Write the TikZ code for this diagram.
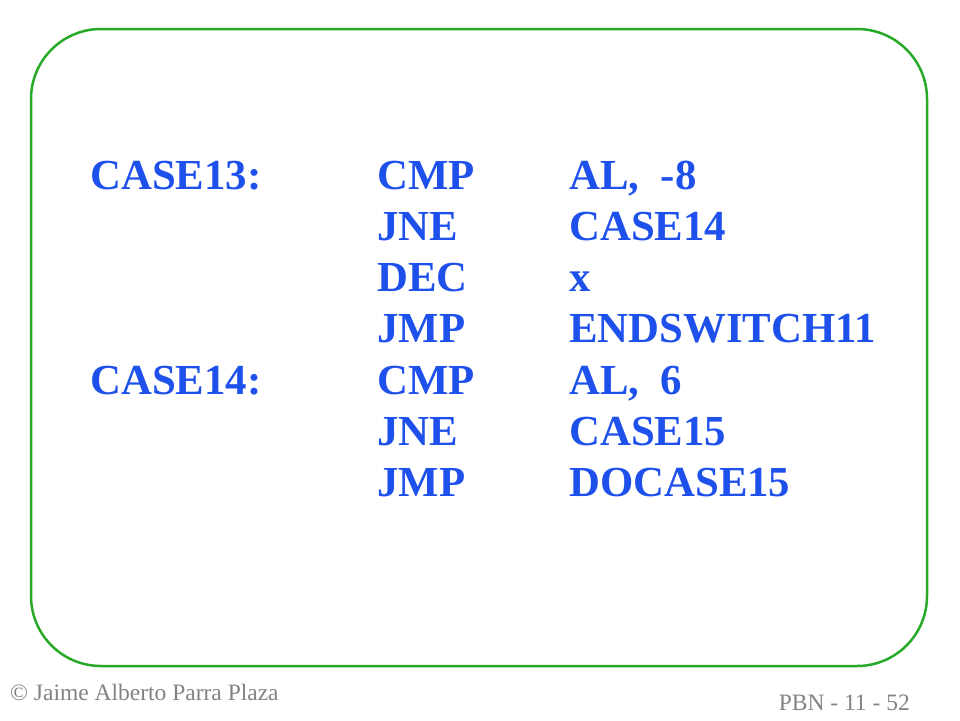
\documentclass[tikz,border=0pt]{standalone}
\usepackage{fontspec}
\setmainfont{Liberation Serif}
\definecolor{codeblue}{RGB}{30,80,235}
\definecolor{framegreen}{RGB}{40,170,40}
\definecolor{foot}{RGB}{130,130,130}
\begin{document}
\begin{tikzpicture}[x=1pt,y=-1pt,
  code/.style={anchor=base west,inner sep=0pt,text=codeblue,font=\fontsize{42.8}{50}\selectfont\bfseries},
  foottext/.style={inner sep=0pt,text=foot}]
\useasboundingbox (0,0) rectangle (960,720);
\draw[framegreen,line width=2.5pt,rounded corners=70pt] (31,29) rectangle (927,666);
\foreach \i/\a/\b/\c in {0/CASE13:/CMP/{AL,~~-8},1//JNE/CASE14,2//DEC/x,3//JMP/ENDSWITCH11,4/CASE14:/CMP/{AL,~~6},5//JNE/CASE15,6//JMP/DOCASE15}{
  \node[code] (l\i) at (90,189+51.3*\i) {\a};
  \node[code] (m\i) at (377,189+51.3*\i) {\b};
  \node[code] (r\i) at (569,189+51.3*\i) {\c};
}
\node[foottext,anchor=base west,font=\fontsize{23.5}{26}\selectfont] (cp) at (10,700) {© Jaime Alberto Parra Plaza};
\node[foottext,anchor=base east,font=\fontsize{23.5}{26}\selectfont] (pg) at (910,710) {PBN - 11 - 52};
\end{tikzpicture}
\end{document}
